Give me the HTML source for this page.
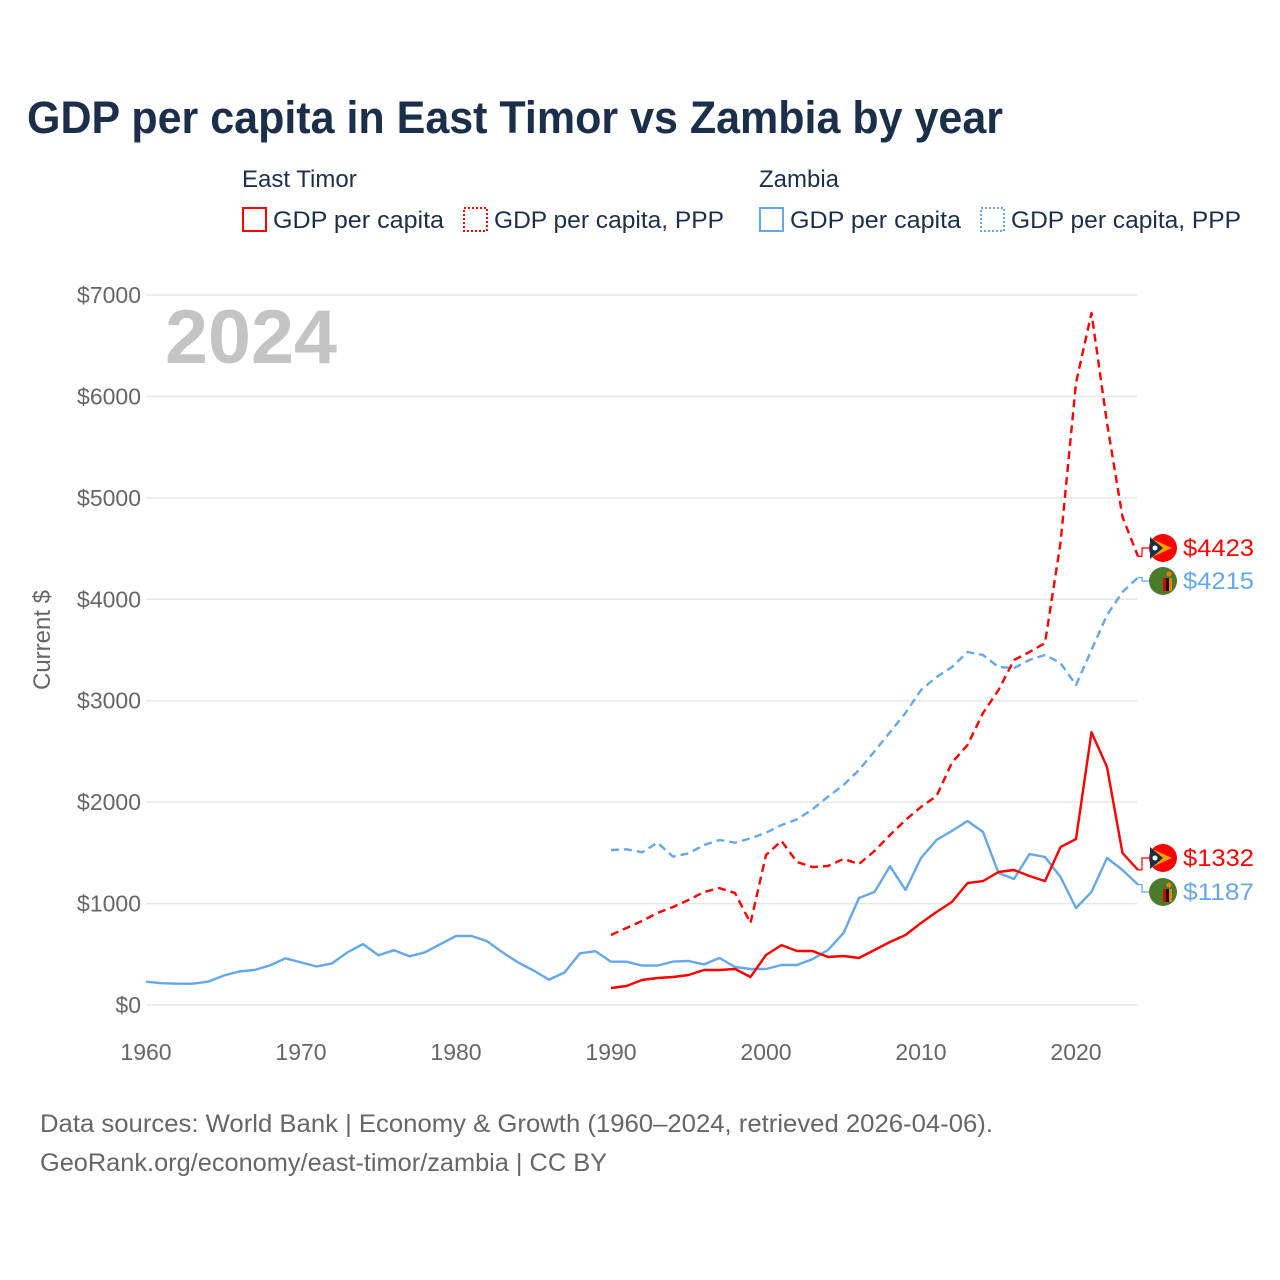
<!DOCTYPE html>
<html><head><meta charset="utf-8">
<style>
body{margin:0;background:#fff;font-family:"Liberation Sans",sans-serif;}
#wrap{position:relative;width:1280px;height:1280px;overflow:hidden;background:#fff;}
</style></head>
<body>
<div id="wrap">
<svg id="svg" width="1280" height="1280" xmlns="http://www.w3.org/2000/svg" font-family="Liberation Sans, sans-serif">
  <text x="27" y="133" font-size="45" font-weight="bold" fill="#1b2f4b" textLength="976" lengthAdjust="spacingAndGlyphs">GDP per capita in East Timor vs Zambia by year</text>
  <g font-size="24" fill="#1b2f4b">
    <text x="242" y="187">East Timor</text>
    <text x="759" y="187">Zambia</text>
    <g><rect x="243" y="208" width="23" height="23" fill="none" stroke="#f00" stroke-width="2"/><text x="273" y="228" textLength="171" lengthAdjust="spacingAndGlyphs">GDP per capita</text></g>
    <g><rect x="464" y="208" width="23" height="23" fill="none" stroke="#f00" stroke-width="2" stroke-dasharray="2,2"/><text x="494" y="228" textLength="230" lengthAdjust="spacingAndGlyphs">GDP per capita, PPP</text></g>
    <g><rect x="760" y="208" width="23" height="23" fill="none" stroke="#64a8ea" stroke-width="2"/><text x="790" y="228" textLength="171" lengthAdjust="spacingAndGlyphs">GDP per capita</text></g>
    <g><rect x="981" y="208" width="23" height="23" fill="none" stroke="#64a8ea" stroke-width="2" stroke-dasharray="2,2"/><text x="1011" y="228" textLength="230" lengthAdjust="spacingAndGlyphs">GDP per capita, PPP</text></g>
  </g>
  <g id="grid"></g>
  <g id="yticks" font-size="23" fill="#666" text-anchor="end"></g>
  <g id="xticks" font-size="23" fill="#666" text-anchor="middle"></g>
  <text transform="translate(50,640) rotate(-90)" text-anchor="middle" font-size="24" fill="#666">Current $</text>
  <text x="165" y="363" font-size="76" font-weight="bold" fill="#c4c4c4" textLength="172" lengthAdjust="spacingAndGlyphs">2024</text>
  <g id="series"></g>
  <g id="ends"></g>
  <g font-size="25" fill="#666">
    <text x="40" y="1132" textLength="953" lengthAdjust="spacingAndGlyphs">Data sources: World Bank | Economy &amp; Growth (1960–2024, retrieved 2026-04-06).</text>
    <text x="40" y="1171" textLength="567" lengthAdjust="spacingAndGlyphs">GeoRank.org/economy/east-timor/zambia | CC BY</text>
  </g>
</svg>
</div>
<script>
const yTicks = [0,1000,2000,3000,4000,5000,6000,7000];
const xTicks = [1960,1970,1980,1990,2000,2010,2020];
const zmStart = 1960;
const zmGdp = [230,215,210,210,230,290,330,345,390,460,420,380,410,520,600,490,540,480,520,600,680,680,630,520,420,340,250,320,510,530,
 427,427,388,388,428,434,400,463,375,355,355,394,394,453,542,709,1055,1114,1368,1134,1449,1627,1716,1814,1706,1301,1242,1489,1459,1262,956,1115,1449,1331,1187];
const zmPppStart = 1990;
const zmPpp = [1528,1535,1505,1600,1463,1495,1577,1627,1600,1643,1699,1774,1830,1929,2054,2169,2317,2500,2690,2879,3106,3234,3332,3480,3451,3332,3322,3401,3451,3372,3155,3500,3845,4072,4215];
const etStart = 1990;
const etGdp = [168,187,246,266,276,296,345,345,355,276,493,591,532,532,473,483,463,542,621,690,808,917,1016,1202,1222,1311,1331,1272,1222,1557,1636,2690,2346,1498,1332];
const etPpp = [690,759,828,907,966,1035,1114,1153,1104,808,1479,1617,1410,1360,1370,1439,1390,1518,1676,1824,1952,2060,2390,2563,2879,3106,3401,3480,3569,4555,6132,6822,5738,4811,4423];

const X = yr => 146 + (yr-1960)*15.5;
const Y = v => 1005 - v*0.10143;
const NS = "http://www.w3.org/2000/svg";
function mk(tag, attrs, parent){const e=document.createElementNS(NS,tag);for(const k in attrs)e.setAttribute(k,attrs[k]);parent.appendChild(e);return e;}

const grid=document.getElementById('grid'), yt=document.getElementById('yticks'), xt=document.getElementById('xticks');
yTicks.forEach(v=>{
  const l=mk('line',{x1:146,x2:1137,y1:Y(v),y2:Y(v),stroke:'#e6e6e6','stroke-width':1.5},grid);
  
  
  const t=mk('text',{x:141,y:Y(v)+8},yt);
  t.textContent='$'+v;
  
  
});
xTicks.forEach(yr=>{
  const t=mk('text',{x:X(yr),y:1060},xt);
  t.textContent=yr;
  
  
});

const ser=document.getElementById('series');
function line(vals,start,color,dash,name){
  const d=vals.map((v,i)=>(i?'L':'M')+X(start+i).toFixed(1)+','+Y(v).toFixed(1)).join(' ');
  const a={d:d,fill:'none',stroke:color,'stroke-width':2.4,'stroke-linejoin':'round'};
  if(dash)a['stroke-dasharray']='8,5';
  const p=mk('path',a,ser);
  
  
}
line(zmPpp,zmPppStart,'#64a8ea',true,'zambia-ppp-line');
line(etPpp,etStart,'#f00',true,'east-timor-ppp-line');
line(zmGdp,zmStart,'#64a8ea',false,'zambia-gdp-line');
line(etGdp,etStart,'#f00',false,'east-timor-gdp-line');

const ends=document.getElementById('ends');
function endLabel(v,ly,color,flag,name){
  const x0=X(2024), y0=Y(v);
  const c=mk('path',{d:`M${x0},${y0} L${x0+4},${y0} L${x0+4},${ly} L1150,${ly}`,fill:'none',stroke:color,'stroke-width':1.2},ends);
  
  
  const g=mk('g',{},ends);
  
  
  if(flag==='tl'){
    mk('circle',{cx:1163,cy:ly,r:14,fill:'#f00'},g);
    mk('path',{d:`M1150,${ly-10} L1172,${ly} L1150,${ly+10}Z`,fill:'#f6a000'},g);
    mk('path',{d:`M1150,${ly-11} L1163,${ly} L1150,${ly+11}Z`,fill:'#1b2f4b'},g);
    mk('circle',{cx:1155,cy:ly,r:2.5,fill:'#fff'},g);
  } else {
    mk('circle',{cx:1163,cy:ly,r:14,fill:'#4a7a2c'},g);
    mk('rect',{x:1163,y:ly-3,width:3,height:13,fill:'#d00'},g);
    mk('rect',{x:1166,y:ly-3,width:3,height:13,fill:'#111'},g);
    mk('rect',{x:1169,y:ly-3,width:3,height:13,fill:'#f08000'},g);
    mk('circle',{cx:1169,cy:ly-7,r:2.5,fill:'#f08000'},g);
  }
  const t=mk('text',{x:1183,y:ly+8,'font-size':24,fill:color,textLength:71,lengthAdjust:'spacingAndGlyphs'},ends);
  t.textContent='$'+v;
  
  
}
endLabel(etPpp[etPpp.length-1],548,'#f00','tl','east-timor-ppp-end');
endLabel(zmPpp[zmPpp.length-1],581,'#64a8ea','zm','zambia-ppp-end');
endLabel(etGdp[etGdp.length-1],858,'#f00','tl','east-timor-gdp-end');
endLabel(zmGdp[zmGdp.length-1],892,'#64a8ea','zm','zambia-gdp-end');
</script>
</body></html>
